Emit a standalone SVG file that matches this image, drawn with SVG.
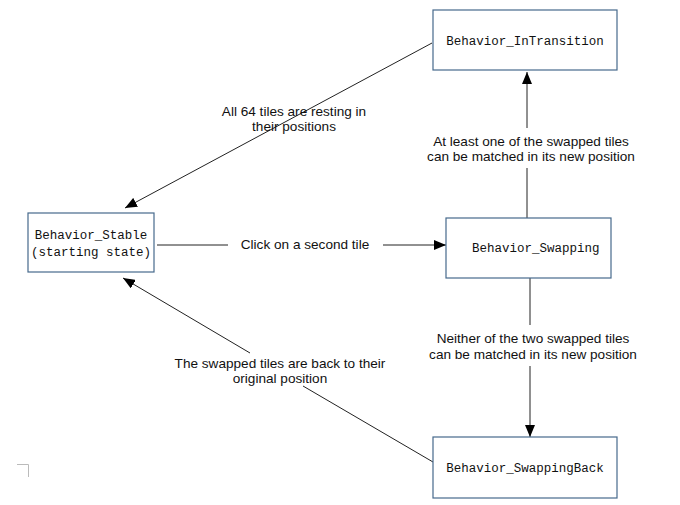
<svg xmlns="http://www.w3.org/2000/svg" width="680" height="505" viewBox="0 0 680 505">
<style>
.node rect{fill:#fff;stroke:#46698c;stroke-width:1.2}
.mono{font-family:"Liberation Mono","DejaVu Sans Mono",monospace;font-size:12.5px;fill:#111}
.lbl{font-family:"Liberation Sans",Arial,sans-serif;font-size:13.6px;fill:#111;text-anchor:middle}
.conn line{stroke:#222;stroke-width:1;fill:none}
</style>
<defs>
<marker id="ah" markerWidth="12" markerHeight="10" refX="12" refY="5" orient="auto" markerUnits="userSpaceOnUse">
<path d="M0,0 L12,5 L0,10 Z" fill="#000"/>
</marker>
</defs>
<rect width="680" height="505" fill="#fff"/>
<g id="connectors" class="conn">
<line x1="432" y1="43" x2="125" y2="208" marker-end="url(#ah)"/>
<line x1="157" y1="245" x2="228" y2="245"/>
<line x1="383" y1="245" x2="446" y2="245" marker-end="url(#ah)"/>
<line x1="527" y1="218" x2="527" y2="168"/>
<line x1="527" y1="128" x2="527" y2="72" marker-end="url(#ah)"/>
<line x1="530" y1="278" x2="530" y2="325"/>
<line x1="530" y1="366" x2="530" y2="437" marker-end="url(#ah)"/>
<line x1="433" y1="462" x2="303" y2="386"/>
<line x1="250" y1="353" x2="123" y2="278" marker-end="url(#ah)"/>
</g>
<g id="labels">
<text class="lbl" x="294" y="116">All 64 tiles are resting in</text>
<text class="lbl" x="294" y="131">their positions</text>
<text class="lbl" x="305" y="249">Click on a second tile</text>
<text class="lbl" x="531" y="146">At least one of the swapped tiles</text>
<text class="lbl" x="531" y="161">can be matched in its new position</text>
<text class="lbl" x="533" y="343">Neither of the two swapped tiles</text>
<text class="lbl" x="533" y="359">can be matched in its new position</text>
<text class="lbl" x="280" y="368">The swapped tiles are back to their</text>
<text class="lbl" x="280" y="383">original position</text>
</g>
<g id="node-intransition" class="node">
<rect x="433" y="10" width="184" height="60"/>
<text class="mono" x="525" y="45" text-anchor="middle">Behavior_InTransition</text>
</g>
<g id="node-stable" class="node">
<rect x="28" y="213" width="126" height="59"/>
<text class="mono" x="91" y="239" text-anchor="middle">Behavior_Stable</text>
<text class="mono" x="91" y="256" text-anchor="middle">(starting state)</text>
</g>
<g id="node-swapping" class="node">
<rect x="446" y="218" width="165" height="60"/>
<text class="mono" x="472" y="252">Behavior_Swapping</text>
</g>
<g id="node-swappingback" class="node">
<rect x="433" y="437" width="184" height="61"/>
<text class="mono" x="525" y="472" text-anchor="middle">Behavior_SwappingBack</text>
</g>
<path d="M17,464.5 H28.5 V477" fill="none" stroke="#bbb" stroke-width="1"/>
</svg>
